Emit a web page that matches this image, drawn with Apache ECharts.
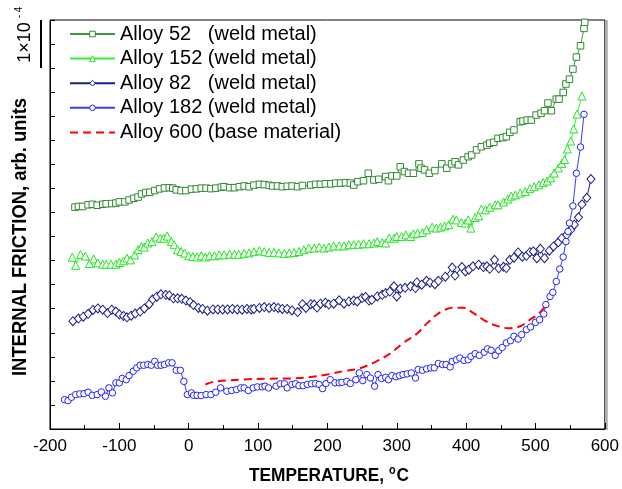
<!DOCTYPE html>
<html>
<head>
<meta charset="utf-8">
<script src="https://cdn.jsdelivr.net/npm/echarts@6/dist/echarts.min.js"></script>
<style>
  html, body { margin: 0; padding: 0; background: #fff; }
  #chart { width: 622px; height: 489px; }
</style>
</head>
<body>
<div id="chart"></div>
<script>
// Internal friction spectra (arb. units, 1 tick = 0.5e-4) versus temperature in °C.
const seriesNames = [
  'Alloy 52   (weld metal)',
  'Alloy 152 (weld metal)',
  'Alloy 82   (weld metal)',
  'Alloy 182 (weld metal)',
  'Alloy 600 (base material)'
];

const alloy52 = [
  [-164,9.22],[-159,9.25],[-153,9.25],[-145,9.32],[-139,9.34],[-132,9.30],[-124,9.34],[-119,9.36],
  [-111,9.37],[-105,9.39],[-100,9.44],[-92,9.44],[-86,9.52],[-79,9.59],[-73,9.64],[-68,9.77],
  [-62,9.83],[-56,9.84],[-49,9.91],[-42,9.98],[-35,10.02],[-28,10.03],[-23,10.01],[-18,9.94],
  [-11,9.91],[-4,9.91],[4,9.97],[11,9.98],[18,10.01],[25,10.01],[32,9.99],[39,10.01],
  [47,10.05],[51,10.07],[59,10.03],[66,10.03],[73,10.07],[80,10.10],[87,10.07],[94,10.14],
  [102,10.17],[109,10.16],[116,10.13],[121,10.10],[128,10.10],[135,10.07],[142,10.09],[149,10.10],
  [157,10.07],[164,10.12],[176,10.14],[183,10.17],[190,10.17],[197,10.19],[205,10.19],[212,10.22],
  [219,10.22],[226,10.24],[233,10.22],[238,10.14],[244,10.28],[252,10.32],[259,10.63],[267,10.35],
  [274,10.38],[284,10.49],[288,10.32],[293,10.52],[300,10.52],[305,10.90],[311,10.70],[317,10.63],
  [324,10.63],[332,11.02],[335,10.84],[340,10.77],[347,10.63],[355,10.74],[365,11.02],[372,10.84],
  [379,11.02],[384,11.11],[389,10.98],[396,11.18],[403,11.32],[408,11.39],[415,11.60],[422,11.73],
  [430,11.80],[434,11.88],[440,11.92],[446,12.08],[453,12.11],[458,12.15],[463,12.33],[469,12.43],
  [478,12.77],[482,12.80],[488,12.84],[494,12.84],[501,13.05],[508,13.12],[513,13.23],[518,13.55],
  [523,13.23],[530,13.71],[534,13.71],[540,13.99],[544,14.34],[549,14.54],[554,14.96],[559,15.46],
  [565,15.93],[570,16.65],[571,16.90]
];

const alloy152 = [
  [-168,7.14],[-163,6.80],[-156,7.26],[-149,7.19],[-143,6.88],[-137,7.07],[-131,6.90],[-124,6.85],
  [-119,6.85],[-112,6.85],[-105,6.85],[-100,6.92],[-94,6.99],[-89,7.10],[-84,7.03],[-78,7.24],
  [-73,7.45],[-68,7.59],[-64,7.56],[-59,7.73],[-53,7.79],[-47,7.98],[-41,7.93],[-36,7.93],
  [-31,8.02],[-25,7.79],[-21,7.66],[-16,7.45],[-11,7.38],[-6,7.31],[0,7.20],[6,7.17],
  [12,7.15],[18,7.20],[24,7.15],[30,7.20],[37,7.20],[44,7.24],[51,7.24],[59,7.27],
  [66,7.27],[72,7.26],[80,7.30],[87,7.32],[94,7.37],[102,7.41],[109,7.37],[116,7.34],
  [123,7.34],[130,7.32],[138,7.30],[145,7.32],[152,7.34],[159,7.38],[166,7.45],[173,7.52],
  [181,7.52],[188,7.56],[195,7.52],[202,7.56],[209,7.61],[217,7.61],[224,7.61],[231,7.66],
  [238,7.66],[245,7.68],[252,7.70],[260,7.70],[267,7.73],[272,7.79],[279,7.75],[284,7.73],
  [289,7.93],[296,7.93],[300,8.00],[307,8.00],[313,8.07],[320,8.00],[324,8.11],[330,8.14],
  [337,8.17],[343,8.28],[351,8.39],[357,8.35],[363,8.39],[369,8.44],[375,8.49],[381,8.72],
  [386,8.69],[393,8.58],[399,8.56],[403,8.69],[407,8.35],[413,8.79],[418,8.86],[422,9.14],
  [428,9.11],[434,9.22],[442,9.32],[446,9.32],[454,9.44],[460,9.56],[465,9.68],[471,9.73],
  [478,9.81],[485,9.87],[492,9.99],[498,10.07],[505,10.15],[511,10.25],[517,10.31],[522,10.44],
  [527,10.64],[533,10.85],[538,11.04],[542,11.20],[546,11.64],[551,11.97],[555,12.47],[560,13.09],
  [567,13.84]
];

const alloy82 = [
  [-167,4.48],[-159,4.59],[-152,4.67],[-145,4.79],[-138,4.95],[-131,5.01],[-124,4.96],[-117,4.82],
  [-111,4.96],[-105,4.88],[-100,4.76],[-94,4.70],[-89,4.64],[-83,4.71],[-77,4.80],[-70,4.88],
  [-64,5.01],[-57,5.19],[-52,5.39],[-46,5.50],[-40,5.60],[-33,5.58],[-28,5.55],[-22,5.43],
  [-16,5.43],[-10,5.41],[-4,5.34],[2,5.27],[7,5.15],[14,5.03],[20,4.99],[27,4.92],
  [35,4.97],[42,4.97],[49,4.97],[56,4.97],[63,4.99],[70,4.97],[77,4.96],[84,4.99],
  [90,4.97],[94,4.99],[102,5.03],[109,5.07],[116,5.03],[123,5.07],[129,5.03],[135,4.99],
  [142,4.99],[149,4.93],[157,4.86],[164,5.19],[169,5.03],[176,5.19],[181,5.17],[185,5.05],
  [190,5.21],[197,5.25],[202,5.17],[209,5.21],[217,5.35],[224,5.21],[231,5.30],[238,5.34],
  [243,5.30],[250,5.44],[255,5.49],[260,5.34],[264,5.37],[272,5.51],[279,5.58],[284,5.65],
  [290,5.71],[296,5.93],[300,5.51],[305,5.83],[312,5.87],[320,5.93],[327,5.86],[329,6.09],
  [336,6.00],[343,6.16],[348,6.08],[355,6.02],[360,6.16],[370,6.33],[380,6.71],[384,6.38],
  [394,6.73],[399,6.55],[404,6.62],[410,6.76],[418,6.83],[425,6.73],[430,6.76],[434,6.66],
  [441,7.03],[447,6.68],[454,6.74],[458,6.69],[463,7.03],[469,7.12],[475,7.34],[481,7.16],
  [487,7.20],[492,7.35],[497,7.38],[502,7.10],[507,7.49],[513,7.10],[520,7.41],[526,7.59],
  [533,7.76],[538,7.93],[545,8.07],[551,8.28],[556,8.49],[562,8.80],[567,9.34],[574,9.61],
  [580,10.39]
];

const alloy182 = [
  [-179,1.22],[-174,1.18],[-169,1.32],[-163,1.43],[-157,1.46],[-151,1.47],[-145,1.53],[-139,1.40],
  [-132,1.43],[-126,1.54],[-120,1.36],[-115,1.71],[-110,1.50],[-105,1.92],[-100,1.92],[-96,2.10],
  [-90,2.05],[-86,2.22],[-80,2.40],[-75,2.54],[-70,2.65],[-65,2.65],[-59,2.68],[-54,2.65],
  [-49,2.81],[-45,2.65],[-40,2.65],[-35,2.68],[-29,2.75],[-24,2.75],[-18,2.44],[-12,2.44],
  [-7,1.98],[-2,1.43],[4,1.50],[7,1.40],[12,1.40],[18,1.39],[25,1.43],[32,1.43],
  [39,1.53],[46,1.71],[55,1.57],[62,1.60],[69,1.64],[75,1.71],[80,1.71],[86,1.60],
  [93,1.71],[99,1.75],[106,1.75],[110,1.78],[115,1.71],[126,1.78],[132,1.88],[138,1.88],
  [142,1.71],[149,1.85],[154,1.88],[159,1.80],[165,1.80],[171,1.85],[177,1.88],[183,1.89],
  [188,1.85],[193,1.68],[198,1.89],[204,2.05],[211,1.92],[217,1.92],[221,1.94],[228,1.98],
  [233,1.89],[241,2.05],[246,2.33],[251,2.01],[257,2.26],[262,2.12],[268,1.78],[273,2.26],
  [278,2.10],[284,2.15],[288,2.05],[293,2.22],[299,2.17],[304,2.22],[309,2.26],[315,2.29],
  [321,2.33],[327,2.12],[331,2.47],[337,2.44],[343,2.50],[349,2.54],[354,2.54],[360,2.72],
  [366,2.68],[371,2.68],[377,2.58],[380,2.81],[386,2.88],[391,2.95],[397,2.85],[403,2.88],
  [407,3.02],[413,3.13],[419,3.06],[426,3.19],[431,3.33],[436,3.27],[442,3.06],[447,3.26],
  [452,3.39],[458,3.58],[464,3.67],[469,3.85],[475,3.74],[480,3.92],[487,4.13],[493,4.24],
  [500,4.43],[506,4.54],[512,4.78],[515,5.17],[521,5.51],[525,5.68],[530,6.13],[535,6.65],
  [540,7.15],[544,7.79],[547,8.21],[549,8.56],[554,9.27],[559,10.63],[565,11.72],[570,13.08]
];

const alloy600 = [
  [24,1.85],[37,1.97],[73,2.05],[112,2.09],[145,2.10],[173,2.15],[202,2.28],[224,2.41],
  [245,2.51],[267,2.76],[288,3.09],[310,3.59],[329,3.96],[346,4.46],[364,4.88],[382,5.04],
  [396,5.04],[410,4.83],[425,4.54],[442,4.31],[461,4.19],[478,4.27],[492,4.54],[504,4.77],
  [515,5.15]
];

const xTickMin = -200, xTickMax = 600, xTickStep = 100;
const yMin = 0, yMax = 17, yStep = 1;

const FONT = '"Liberation Sans", Arial, Helvetica, sans-serif';

function markedSeries(name, data, symbol, size, markColor, lineColor) {
  return {
    name: name,
    type: 'line',
    data: data,
    symbol: symbol,
    symbolSize: size,
    showSymbol: true,
    showAllSymbol: true,
    lineStyle: { color: lineColor, width: 1 },
    itemStyle: { color: '#fff', borderColor: markColor, borderWidth: 1 },
    emphasis: { disabled: true },
    silent: true
  };
}

const chart = echarts.init(document.getElementById('chart'), null, { renderer: 'canvas' });

chart.setOption({
  animation: false,
  backgroundColor: '#fff',
  grid: {
    left: 50, right: 15, top: 20, bottom: 60,
    show: true, borderColor: '#000', borderWidth: 1, backgroundColor: 'transparent'
  },
  legend: {
    orient: 'vertical',
    left: 69,
    top: 24,
    padding: 0,
    itemGap: 4.6,
    itemWidth: 45,
    itemHeight: 7,
    selectedMode: false,
    itemStyle: { borderWidth: 1 },
    textStyle: { fontSize: 20, fontFamily: FONT, color: '#000', lineHeight: 20 },
    data: [
      { name: seriesNames[0] },
      { name: seriesNames[1] },
      { name: seriesNames[2] },
      { name: seriesNames[3] },
      { name: seriesNames[4], itemStyle: { opacity: 0 } }
    ]
  },
  xAxis: {
    type: 'value',
    min: xTickMin, max: xTickMax, interval: xTickStep,
    axisLine: { show: true, onZero: false, lineStyle: { color: '#000', width: 1 } },
    axisTick: { show: true, inside: true, length: 6, lineStyle: { color: '#000' } },
    minorTick: { show: true, splitNumber: 2, length: 4, lineStyle: { color: '#000' } },
    axisLabel: { color: '#000', fontSize: 17, fontFamily: FONT, margin: 9 },
    splitLine: { show: false }
  },
  yAxis: {
    type: 'value',
    min: yMin, max: yMax, interval: yStep,
    axisLine: { show: true, onZero: false, lineStyle: { color: '#000', width: 1 } },
    axisTick: { show: true, inside: true, length: 5, lineStyle: { color: '#000' } },
    axisLabel: { show: false },
    splitLine: { show: false }
  },
  series: [
    markedSeries(seriesNames[0], alloy52, 'rect', 6.5, '#2f8a2f', '#3c9a3c'),
    markedSeries(seriesNames[1], alloy152, 'triangle', 8, '#22e622', '#33f033'),
    markedSeries(seriesNames[2], alloy82, 'diamond', [8, 9], '#1c1c8a', '#1c1c8a'),
    markedSeries(seriesNames[3], alloy182, 'circle', 6.5, '#2222ff', '#3a3aff'),
    {
      name: seriesNames[4],
      type: 'line',
      data: alloy600,
      symbol: 'none',
      smooth: 0.35,
      lineStyle: { color: '#ff0000', width: 2, type: [8, 5] },
      itemStyle: { color: '#ff0000' },
      emphasis: { disabled: true },
      silent: true,
      z: 3
    }
  ]
});

// Scale bar for 1×10^-4 spans two y-axis ticks at the top of the axis.
const barTop = chart.convertToPixel({ yAxisIndex: 0 }, yMax);
const barBottom = chart.convertToPixel({ yAxisIndex: 0 }, yMax - 2 * yStep);
const xRight = chart.convertToPixel({ xAxisIndex: 0 }, xTickMax);

chart.setOption({
  graphic: [
    {
      type: 'line',
      shape: { x1: 41, y1: barTop, x2: 41, y2: barBottom },
      style: { stroke: '#000', lineWidth: 2 }
    },
    {
      type: 'text',
      x: 25.5, y: 42.5,
      rotation: Math.PI / 2,
      style: { text: '1×10', font: '18px ' + FONT, fill: '#000', align: 'center', verticalAlign: 'middle' }
    },
    {
      type: 'text',
      x: 19.5, y: 12.5,
      rotation: Math.PI / 2,
      style: { text: '- 4', font: '10px ' + FONT, fill: '#000', align: 'center', verticalAlign: 'middle' }
    },
    {
      type: 'line',
      shape: { x1: xRight + 2, y1: 20, x2: xRight + 2, y2: 430 },
      style: { stroke: '#b0b0b0', lineWidth: 2 }
    },
    {
      type: 'text',
      x: 20.5, y: 237,
      rotation: Math.PI / 2,
      scaleX: 0.92,
      style: {
        text: 'INTERNAL FRICTION, arb. units',
        font: 'bold 20px ' + FONT, fill: '#000', align: 'center', verticalAlign: 'middle'
      }
    },
    {
      type: 'text',
      x: 329, y: 476,
      scaleX: 0.91,
      style: {
        text: '{t|TEMPERATURE, }{s|o}{t|C}',
        align: 'center', verticalAlign: 'middle',
        rich: {
          t: { fontSize: 19, fontWeight: 'bold', fontFamily: FONT, fill: '#000' },
          s: { fontSize: 12, fontWeight: 'bold', fontFamily: FONT, fill: '#000', padding: [0, 1, 10, 0] }
        }
      }
    }
  ]
});
</script>
</body>
</html>
